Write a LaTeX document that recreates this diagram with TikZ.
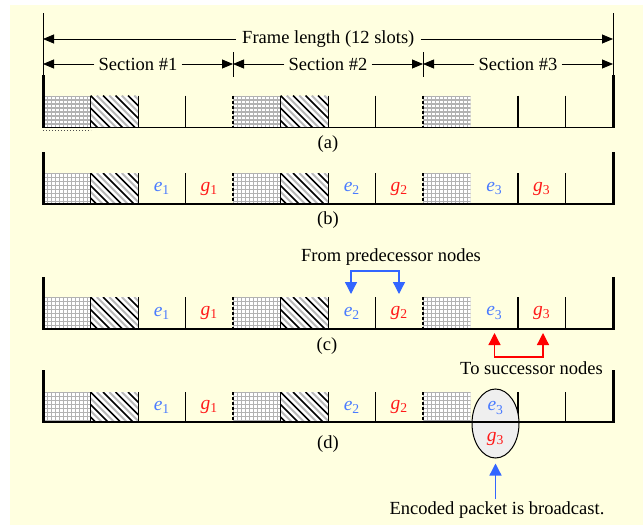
\documentclass[tikz,border=0pt]{standalone}
\usepackage{fontspec}
\setmainfont{Liberation Serif}
\usetikzlibrary{arrows.meta,shapes.geometric}
\definecolor{bgyellow}{HTML}{FFFFE0}
\definecolor{dotgray}{HTML}{B2B2B2}
\definecolor{lblue}{HTML}{4A7BFF}
\definecolor{lred}{HTML}{FF1A1A}
\definecolor{ablue}{HTML}{3366FF}
\definecolor{ellgray}{HTML}{EFEFEF}
\newcommand\dotbox[3]{%
  \begin{scope}
    \clip (#1,#2) rectangle ({#1+47.5},#3);
    \fill[dotgray] (#1,#2) rectangle ({#1+47.5},#3);
    \foreach \i in {0,...,11}{\foreach \j in {0,...,8}{%
      \fill[white] ({#1+1.4+4*\i},{#2+1.4+4*\j}) rectangle ++(2.2,2.2);}}
  \end{scope}}
\newcommand\stripebox[3]{%
  \begin{scope}
    \clip (#1,#2) rectangle ({#1+47.5},#3);
    \fill[white] (#1,#2) rectangle ({#1+47.5},#3);
    \foreach \k in {-4,...,4}{%
      \draw[gray!55, line width=2pt] ({#1+\k*12.5+6.25},#2) -- ++(40,40);
      \draw[black, line width=1.5pt] ({#1+\k*12.5},#2) -- ++(40,40);}
  \end{scope}
  \draw[line width=1pt] (#1,#2) -- (#1,#3);
  \draw[line width=1pt] ({#1+47.5},#2) -- ({#1+47.5},#3);}
\newcommand\sym[3]{\textcolor{#1}{\textit{#2}\textsubscript{#3}}}
\begin{document}
\begin{tikzpicture}[x=1pt,y=-1pt,
  txt/.style={font=\fontsize{18.5}{22}\selectfont, inner sep=2pt},
  symtxt/.style={font=\fontsize{19.5}{22}\selectfont, inner sep=2pt},
  gaptxt/.style={txt, inner xsep=6pt},
  dim/.style={-{Triangle[length=11pt,width=9pt]}, line width=0.8pt},
  slot/.style={line width=1.5pt},
  dashedge/.style={line width=1.3pt, dash pattern=on 3pt off 2pt},
  base/.style={line width=1.5pt},
  bar/.style={line width=3pt},
  tick/.style={line width=0.8pt},
  barr/.style={{Triangle[length=12pt,width=12pt]}-{Triangle[length=12pt,width=12pt]}, line width=1.3pt}]
\useasboundingbox (0,0) rectangle (643,525);
\fill[bgyellow] (10,5) rectangle (643,525);

% top dimension lines
\draw[tick] (43,13) -- (43,75);
\draw[tick] (613,13) -- (613,75);
\draw[tick] (233,52) -- (233,77);
\draw[tick] (423,52) -- (423,77);
\node[gaptxt] (frame) at (328.3,39) {Frame length (12 slots)};
\coordinate (fl) at (43,39);
\coordinate (fr) at (613,39);
\draw[dim] (frame.west) -- (fl);
\draw[dim] (frame.east) -- (fr);
\coordinate (c0) at (43,64);
\coordinate (c1) at (233,64);
\coordinate (c2) at (423,64);
\coordinate (c3) at (613,64);
\node[txt, inner xsep=4pt] (s1) at (138,64) {Section \#1};
\node[txt, inner xsep=4pt] (s2) at (328,64) {Section \#2};
\node[txt, inner xsep=4pt] (s3) at (518,64) {Section \#3};
\draw[dim] (s1.west) -- (c0);
\draw[dim] (s1.east) -- (c1);
\draw[dim] (s2.west) -- (c1);
\draw[dim] (s2.east) -- (c2);
\draw[dim] (s3.west) -- (c2);
\draw[dim] (s3.east) -- (c3);

% rows
\foreach \bt/\bb/\tb in {75/127.5/95.5,152/204/173,277/329/297,370/422/392}{
  \dotbox{43}{\tb}{\bb}
  \dotbox{233}{\tb}{\bb}
  \dotbox{423}{\tb}{\bb}
  \stripebox{90.5}{\tb}{\bb}
  \stripebox{280.5}{\tb}{\bb}
  \draw[dashedge] (233,\tb) -- (233,\bb);
  \draw[dashedge] (423,\tb) -- (423,\bb);
  \foreach \sx in {185.5,375.5,518,565.5}{\draw[slot] (\sx,\tb) -- (\sx,\bb);}
}
\draw[line width=1pt, dotted, gray!60!black] (43,130.5) -- (91,130.5);

% encoded packet ellipse
\node[ellipse, draw, line width=1pt, fill=ellgray, minimum width=47pt, minimum height=69pt, inner sep=0pt] (enc) at (495.5,423.5) {};

\foreach \bt/\bb in {75/127.5,152/204,277/329,370/422}{
  \draw[base] (43,\bb) -- (613,\bb);
  \draw[bar] (43,\bt) -- (43,{\bb+0.75});
  \draw[bar] (613,\bt) -- (613,{\bb+0.75});
}

% labels
\node[txt] (la) at (328,144) {(a)};
\node[txt] (lb) at (328,220) {(b)};
\node[txt] (lc) at (327,346) {(c)};
\node[txt] (ld) at (328,444) {(d)};

% row b
\node[symtxt] (be1) at (161.75,188.5) {\sym{lblue}{e}{1}};
\node[symtxt] (bg1) at (209.25,188.5) {\sym{lred}{g}{1}};
\node[symtxt] (be2) at (351.75,188.5) {\sym{lblue}{e}{2}};
\node[symtxt] (bg2) at (399.25,188.5) {\sym{lred}{g}{2}};
\node[symtxt] (be3) at (494.25,188.5) {\sym{lblue}{e}{3}};
\node[symtxt] (bg3) at (541.75,188.5) {\sym{lred}{g}{3}};
% row c
\node[symtxt] (ce1) at (161.75,313) {\sym{lblue}{e}{1}};
\node[symtxt] (cg1) at (209.25,313) {\sym{lred}{g}{1}};
\node[symtxt] (ce2) at (351.75,313) {\sym{lblue}{e}{2}};
\node[symtxt] (cg2) at (399.25,313) {\sym{lred}{g}{2}};
\node[symtxt] (ce3) at (494.25,313) {\sym{lblue}{e}{3}};
\node[symtxt] (cg3) at (541.75,313) {\sym{lred}{g}{3}};
% row d
\node[symtxt] (de1) at (161.75,407) {\sym{lblue}{e}{1}};
\node[symtxt] (dg1) at (209.25,407) {\sym{lred}{g}{1}};
\node[symtxt] (de2) at (351.75,407) {\sym{lblue}{e}{2}};
\node[symtxt] (dg2) at (399.25,407) {\sym{lred}{g}{2}};
\node[symtxt] (de3) at (495.5,408) {\sym{lblue}{e}{3}};
\node[symtxt] (dg3) at (495.5,439) {\sym{lred}{g}{3}};

% predecessor / successor brackets
\node[txt] (pred) at (391,257) {From predecessor nodes};
\coordinate (pa) at (351,294);
\coordinate (pb) at (399,294);
\draw[barr, ablue] (pa) -- ++(0,-23) -| (pb);
\node[txt] (succ) at (531.5,368) {To successor nodes};
\coordinate (ra) at (494.5,333);
\coordinate (rb) at (543,333);
\draw[barr, red] (ra) -- ++(0,24) -| (rb);

% broadcast
\node[txt] (bc) at (497,510) {Encoded packet is broadcast.};
\draw[-{Triangle[length=12pt,width=12pt]}, ablue, line width=1.3pt, shorten >=5pt] (bc.north -| enc.south) -- (enc.south);
\end{tikzpicture}
\end{document}
